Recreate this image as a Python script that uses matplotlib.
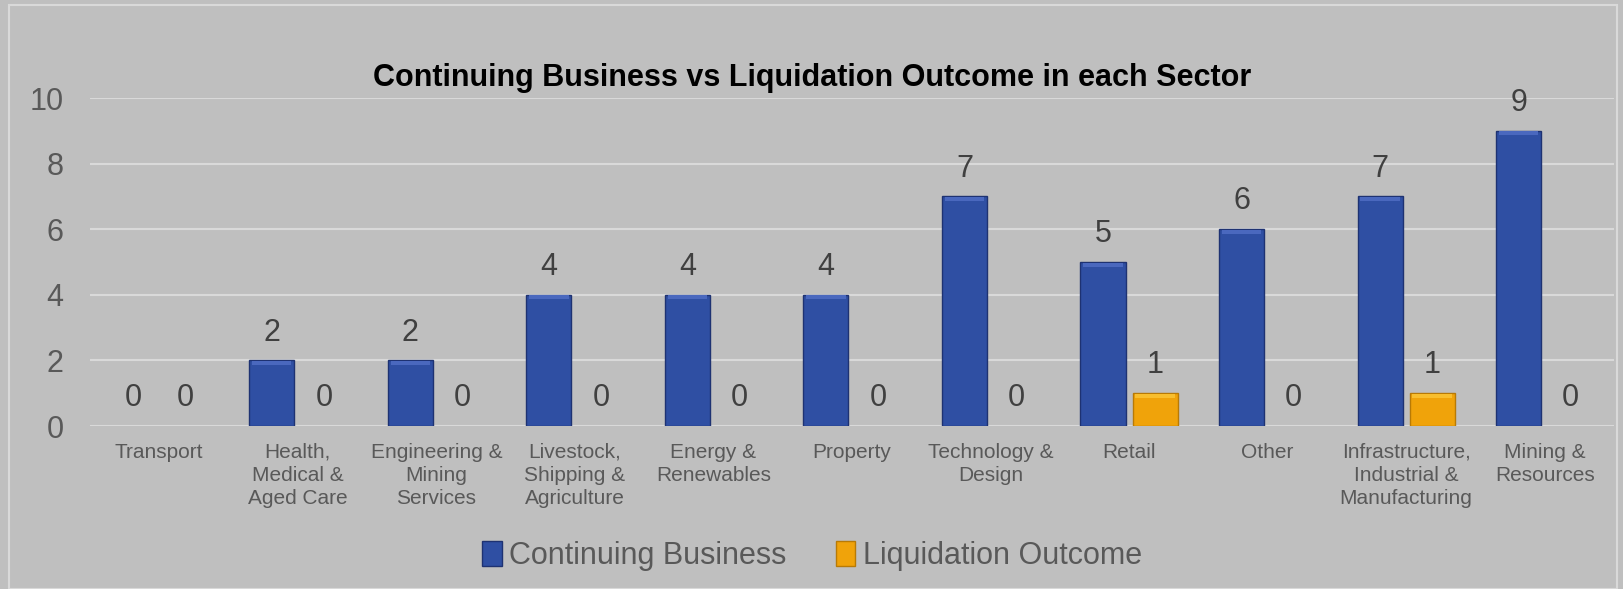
import numpy as np
import matplotlib.pyplot as plt
from matplotlib.patches import Rectangle, Patch

plt.rcParams['font.family'] = ['Liberation Sans', 'DejaVu Sans']

sectors = [
    "Transport",
    "Health,\nMedical &\nAged Care",
    "Engineering &\nMining\nServices",
    "Livestock,\nShipping &\nAgriculture",
    "Energy &\nRenewables",
    "Property",
    "Technology &\nDesign",
    "Retail",
    "Other",
    "Infrastructure,\nIndustrial &\nManufacturing",
    "Mining &\nResources",
]
continuing = [0, 2, 2, 4, 4, 4, 7, 5, 6, 7, 9]
liquidation = [0, 0, 0, 0, 0, 0, 0, 1, 0, 1, 0]

BG = "#BFBFBF"
BLUE = "#2F4FA3"
BLUE_EDGE = "#1E3272"
ORANGE = "#F0A30A"
ORANGE_EDGE = "#B87A05"

fig = plt.figure(figsize=(16.24, 5.89), dpi=100)
fig.patch.set_facecolor(BG)
# thin light frame around the chart area
fig.add_artist(Rectangle((0.0055, 0.0), 0.99, 0.991, transform=fig.transFigure,
                         fill=False, edgecolor="#D9D9D9", linewidth=1.5))

ax = fig.add_axes([0.0554, 0.2767, 0.9384, 0.5569])
ax.set_facecolor(BG)

x = np.arange(len(sectors))
w = 0.325
off = 0.188

b1 = ax.bar(x - off, continuing, w, color=BLUE, edgecolor=BLUE_EDGE, linewidth=1.0, zorder=3)
b2 = ax.bar(x + off, liquidation, w, color=ORANGE, edgecolor=ORANGE_EDGE, linewidth=1.0, zorder=3)

# a lighter strip at the top of each bar to hint at the bevel look
for bars, light in ((b1, "#4A68BE"), (b2, "#F8BE2E")):
    for r in bars:
        h = r.get_height()
        if h > 0:
            ax.add_patch(Rectangle((r.get_x() + 0.02, h - 0.14), r.get_width() - 0.04, 0.12,
                                   color=light, zorder=4, linewidth=0))
        else:
            r.set_visible(False)

for bars, vals in ((b1, continuing), (b2, liquidation)):
    for r, v in zip(bars, vals):
        ax.annotate(str(v), (r.get_x() + r.get_width() / 2, v), xytext=(0, 20),
                    textcoords="offset points", ha="center", va="center",
                    fontsize=22, color="#404040", annotation_clip=False)

ax.set_xlim(-0.5, len(sectors) - 0.5)
ax.set_ylim(0, 10)
ax.set_yticks(range(0, 11, 2))
ax.grid(axis="y", color="#D9D9D9", linewidth=1.5, zorder=0)
ax.set_axisbelow(True)
for s in ax.spines.values():
    s.set_visible(False)
ax.tick_params(axis="both", length=0)
ax.tick_params(axis="y", labelsize=22, labelcolor="#595959", pad=19)
ax.set_xticks(x)
ax.set_xticklabels(sectors, fontsize=15, color="#595959", linespacing=1.27)
ax.tick_params(axis="x", pad=12)

fig.suptitle("Continuing Business vs Liquidation Outcome in each Sector",
             fontsize=22, fontweight="bold", x=0.5, y=0.868, va="center")

handles = [Patch(facecolor=BLUE, edgecolor=BLUE_EDGE, label="Continuing Business"),
           Patch(facecolor=ORANGE, edgecolor=ORANGE_EDGE, label="Liquidation Outcome")]
leg = fig.legend(handles=handles, loc="center", bbox_to_anchor=(0.5, 0.056), ncol=2,
                 frameon=False, fontsize=22, labelcolor="#595959", handlelength=0.65,
                 handleheight=0.9, handletextpad=0.25, columnspacing=1.6)

fig.savefig("out.png", dpi=100, facecolor=BG)
